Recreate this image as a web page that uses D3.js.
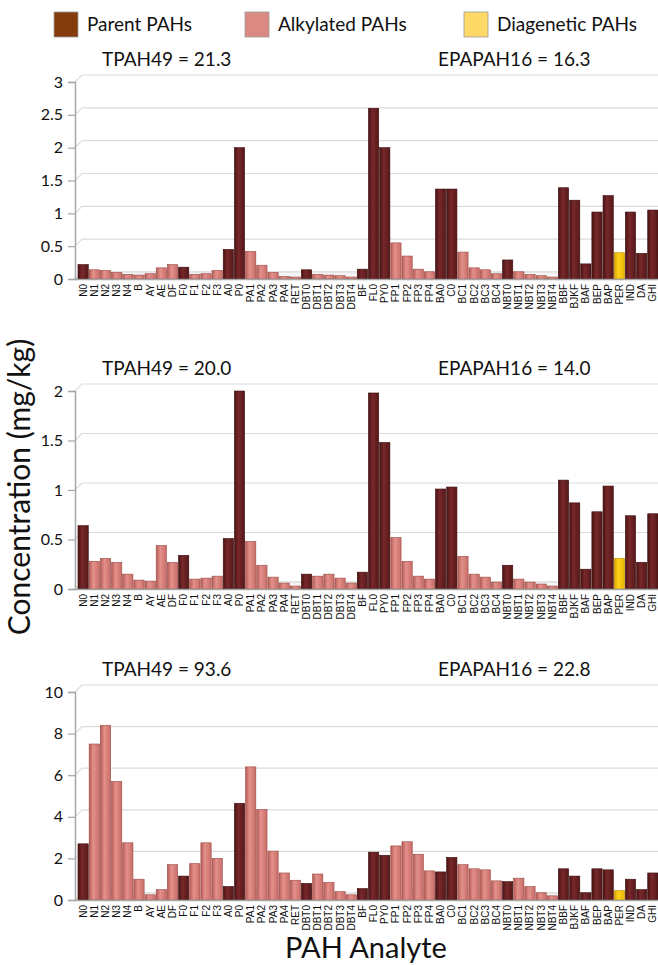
<!DOCTYPE html>
<html>
<head>
<meta charset="utf-8">
<script src="https://cdn.jsdelivr.net/npm/d3@7"></script>
<style>
  body { margin: 0; background: #fff; }
  svg text { font-family: Lato, "Open Sans", sans-serif; fill: #111; }
  .cat text { font-family: "Liberation Sans", Arial, sans-serif; }
</style>
</head>
<body>
<svg class="ch" width="658" height="965"></svg>
<script>
const analytes = ['N0','N1','N2','N3','N4','B','AY','AE','DF','F0','F1','F2','F3','A0','P0',
  'PA1','PA2','PA3','PA4','RET','DBT0','DBT1','DBT2','DBT3','DBT4','BF','FL0','PY0',
  'FP1','FP2','FP3','FP4','BA0','C0','BC1','BC2','BC3','BC4','NBT0','NBT1','NBT2','NBT3','NBT4',
  'BBF','BJKF','BAF','BEP','BAP','PER','IND','DA','GHI']
const parentPAHs = ['N0','F0','A0','P0','DBT0','BF','FL0','PY0','BA0','C0','NBT0',
  'BBF','BJKF','BAF','BEP','BAP','IND','DA','GHI']
const diagenetic = ['PER']

const site1 = [0.22,0.14,0.13,0.1,0.07,0.06,0.08,0.17,0.22,0.18,0.07,0.08,0.13,0.45,2.0,
  0.42,0.21,0.1,0.04,0.03,0.14,0.07,0.06,0.05,0.03,0.15,2.6,2.0,
  0.55,0.35,0.15,0.11,1.37,1.37,0.41,0.17,0.14,0.08,0.29,0.11,0.07,0.05,0.03,
  1.39,1.2,0.23,1.02,1.27,0.4,1.02,0.39,1.05]
const site2 = [0.64,0.28,0.31,0.27,0.15,0.09,0.08,0.44,0.27,0.34,0.1,0.11,0.13,0.51,2.0,
  0.48,0.24,0.12,0.06,0.03,0.15,0.13,0.15,0.11,0.06,0.17,1.98,1.48,
  0.52,0.28,0.13,0.1,1.01,1.03,0.33,0.15,0.12,0.07,0.24,0.1,0.07,0.05,0.03,
  1.1,0.87,0.2,0.78,1.04,0.31,0.74,0.27,0.76]
const site3 = [2.7,7.5,8.4,5.7,2.75,1.0,0.25,0.5,1.7,1.15,1.75,2.75,2.0,0.65,4.65,
  6.4,4.35,2.35,1.3,0.95,0.8,1.25,0.85,0.4,0.25,0.55,2.3,2.15,
  2.6,2.8,2.2,1.4,1.35,2.05,1.7,1.5,1.45,0.92,0.88,1.05,0.65,0.35,0.2,
  1.5,1.15,0.35,1.5,1.45,0.45,1.0,0.5,1.3]

const tpahLabels = ['TPAH49 = 21.3','TPAH49 = 20.0','TPAH49 = 93.6']
const epaLabels = ['EPAPAH16 = 16.3','EPAPAH16 = 14.0','EPAPAH16 = 22.8']
const yTicks1 = [0,0.5,1,1.5,2,2.5,3]
const yTicks2 = [0,0.5,1,1.5,2]
const yTicks3 = [0,2,4,6,8,10]

const legendNames = ['Parent PAHs','Alkylated PAHs','Diagenetic PAHs']
const legendFill = ['#843c0c','#da8a83','#ffd966']

const svg = d3.select('.ch')

// cylinder-ish shading for bars
const defs = svg.append('defs')
const grads = { parent: ['#4a1213','#77282a','#561819'], alkyl: ['#b65b56','#e4918b','#c96d67'], diag: ['#d9a200','#ffd21a','#e8b400'] }
Object.keys(grads).forEach(k => {
  const g = defs.append('linearGradient').attr('id', 'g_' + k)
  g.append('stop').attr('offset', '0%').attr('stop-color', grads[k][0])
  g.append('stop').attr('offset', '40%').attr('stop-color', grads[k][1])
  g.append('stop').attr('offset', '100%').attr('stop-color', grads[k][2])
})
const kind = d => diagenetic.includes(d) ? 'diag' : (parentPAHs.includes(d) ? 'parent' : 'alkyl')
const edge = { parent: '#3a0c0c', alkyl: '#9a4a46', diag: '#c08f00' }

const xscale = d3.scaleBand().domain(analytes).range([78, 658]).paddingInner(0.08)

const panels = [
  { vals: site1, ticks: yTicks1, max: 3, y0: 279, yTop: 82 },
  { vals: site2, ticks: yTicks2, max: 2, y0: 589, yTop: 391 },
  { vals: site3, ticks: yTicks3, max: 10, y0: 900, yTop: 692 }
]
const dx = 7, dy = 7

panels.forEach((p, i) => {
  const yscale = d3.scaleLinear().domain([0, p.max]).range([p.y0, p.yTop])
  const g = svg.append('g')

  // back wall gridlines with the 3d slant
  g.selectAll('.grid').data(p.ticks).enter().append('path')
    .attr('d', d => `M75,${yscale(d)} L${75 + dx},${yscale(d) - dy} L658,${yscale(d) - dy}`)
    .attr('fill', 'none').attr('stroke', '#dcdcdc').attr('stroke-width', 1.2)

  // floor
  g.append('path')
    .attr('d', `M75,${p.y0} L${75 + dx},${p.y0 - dy} L658,${p.y0 - dy} L658,${p.y0} Z`)
    .attr('fill', '#f5f5f5').attr('stroke', '#d6d6d6')

  // y axis
  const yAxis = d3.axisLeft(yscale).tickValues(p.ticks).tickSize(7).tickPadding(5)
    .tickFormat(d => String(d))
  const ax = g.append('g').attr('transform', 'translate(75,0)').call(yAxis)
  ax.select('.domain').attr('stroke', '#a6a6a6').attr('stroke-width', 1.5)
  ax.selectAll('line').attr('stroke', '#a6a6a6').attr('stroke-width', 1.2)
  ax.selectAll('text').attr('font-size', 16).attr('font-family', 'Lato, sans-serif').attr('fill', '#222')

  // bars
  g.selectAll('rect.bar').data(analytes).enter().append('rect')
    .attr('class', 'bar')
    .attr('x', d => xscale(d))
    .attr('width', xscale.bandwidth())
    .attr('y', (d, j) => yscale(p.vals[j]))
    .attr('height', (d, j) => p.y0 - yscale(p.vals[j]))
    .attr('fill', d => 'url(#g_' + kind(d) + ')')
    .attr('stroke', d => edge[kind(d)]).attr('stroke-width', 0.6)

  // front baseline
  g.append('line').attr('x1', 75).attr('x2', 658).attr('y1', p.y0 + 0.5).attr('y2', p.y0 + 0.5)
    .attr('stroke', '#a6a6a6').attr('stroke-width', 1.5)

  // category labels
  const xAxis = d3.axisBottom(xscale).tickSize(0).tickPadding(4)
  const cx = g.append('g').attr('class', 'cat').attr('transform', `translate(0,${p.y0})`).call(xAxis)
  cx.select('.domain').remove()
  cx.selectAll('text')
    .attr('font-size', 10).attr('fill', '#333')
    .attr('text-anchor', 'end')
    .attr('transform', 'rotate(-90)')
    .attr('x', -5).attr('y', 0).attr('dy', '0.35em')

  // sums
  g.append('text').attr('x', 102).attr('y', p.yTop - 16).attr('font-size', 19).text(tpahLabels[i])
  g.append('text').attr('x', 438).attr('y', p.yTop - 16).attr('font-size', 19).text(epaLabels[i])
})

// legend
const leg = svg.append('g')
const legX = [54, 245, 464]
legendNames.forEach((n, i) => {
  leg.append('rect').attr('x', legX[i]).attr('y', 12).attr('width', 24).attr('height', 25)
    .attr('fill', legendFill[i]).attr('stroke', '#999').attr('stroke-width', 0.8)
  leg.append('text').attr('x', legX[i] + 33).attr('y', 31).attr('font-size', 19).text(n)
})

// axis titles
svg.append('text').attr('transform', 'translate(30,487) rotate(-90)')
  .attr('text-anchor', 'middle').attr('font-size', 30).text('Concentration (mg/kg)')
svg.append('text').attr('x', 366).attr('y', 958)
  .attr('text-anchor', 'middle').attr('font-size', 29).text('PAH Analyte')
</script>
</body>
</html>
